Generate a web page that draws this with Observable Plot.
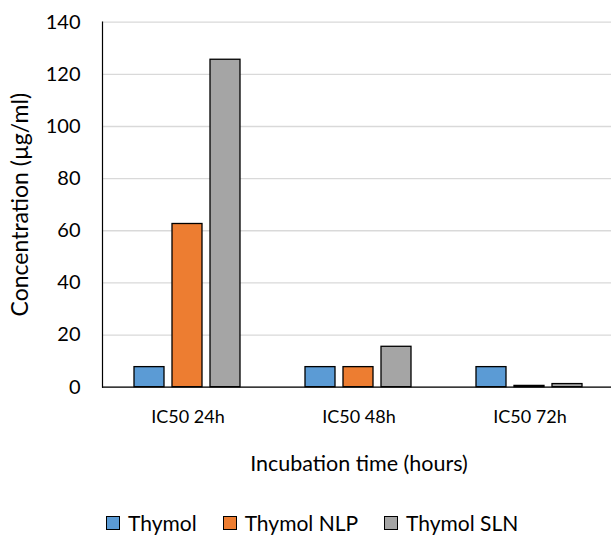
<!DOCTYPE html>
<html>
<head>
<meta charset="utf-8">
<script src="https://cdn.jsdelivr.net/npm/d3@7"></script>
<script src="https://cdn.jsdelivr.net/npm/@observablehq/plot@0.6"></script>
<style>
  html, body { margin: 0; padding: 0; background: #fff; }
  #chart { position: relative; width: 611px; height: 535px; font-family: Lato, sans-serif; }
  .legend { position: absolute; left: 106px; top: 512px; display: flex; font-size: 21px; line-height: 22px; color: #000; }
  .legend .item { display: flex; align-items: center; margin-right: 26px; }
  .legend .sw { width: 12px; height: 12px; border: 1px solid #000; margin-right: 8px; }
</style>
</head>
<body>
<div id="chart"></div>
<script>
const groups = ["IC50 24h", "IC50 48h", "IC50 72h"];
const series = ["Thymol", "Thymol NLP", "Thymol SLN"];
const colors = ["#5b9bd5", "#ed7d31", "#a5a5a5"];
const thymol = [7.7, 7.7, 7.7];
const thymolNLP = [62.6, 7.7, 0.5];
const thymolSLN = [125.6, 15.5, 1.2];
const yTicks = [0, 20, 40, 60, 80, 100, 120, 140];
const xTitle = "Incubation time (hours)";
const yTitle = "Concentration (µg/ml)";

const values = [thymol, thymolNLP, thymolSLN];
const data = [];
groups.forEach((g, i) => series.forEach((s, j) => data.push({group: g, series: s, value: values[j][i]})));

const W = 611, H = 476;
const chart = Plot.plot({
  width: W,
  height: H,
  marginLeft: 102,
  marginRight: -4,
  marginTop: 21.7,
  marginBottom: H - 386.7,
  style: {fontFamily: "Lato, sans-serif", fontSize: "20px", color: "#000", background: "#fff"},
  fx: {domain: groups, padding: 0, label: null},
  x: {domain: series, paddingInner: 0.21, paddingOuter: 0.855, axis: null},
  y: {domain: [0, 140], label: null},
  color: {domain: series, range: colors},
  marks: [
    Plot.gridY(yTicks, {stroke: "#d9d9d9", strokeOpacity: 1, strokeWidth: 1.3}),
    Plot.barY(data, {fx: "group", x: "series", y: "value", fill: "series", stroke: "#000", strokeWidth: 1.3}),
    Plot.ruleY([0], {stroke: "#000", strokeWidth: 1.2}),
    Plot.frame({anchor: "left", facetAnchor: "left", stroke: "#000", strokeWidth: 1.2}),
    Plot.axisY(yTicks, {tickSize: 0, tickPadding: 22, fontSize: 20, label: null}),
    Plot.axisY([], {fontSize: 23, label: yTitle, labelArrow: "none", labelAnchor: "center", labelOffset: 91}),
    Plot.axisFx({anchor: "bottom", tickSize: 0, tickPadding: 23, fontSize: 18, label: null}),
    Plot.axisFx([], {anchor: "bottom", fontSize: 21.5, dx: -5, label: xTitle, labelArrow: "none", labelAnchor: "center", labelOffset: 84})
  ]
});

const root = document.getElementById("chart");
root.appendChild(chart);

const cs = chart.scale("color");
const legend = document.createElement("div");
legend.className = "legend";
cs.domain.forEach((d, i) => {
  const item = document.createElement("div");
  item.className = "item";
  const sw = document.createElement("span");
  sw.className = "sw";
  sw.style.background = cs.range[i];
  const t = document.createElement("span");
  t.textContent = d;
  item.appendChild(sw);
  item.appendChild(t);
  legend.appendChild(item);
});
root.appendChild(legend);
</script>
</body>
</html>
